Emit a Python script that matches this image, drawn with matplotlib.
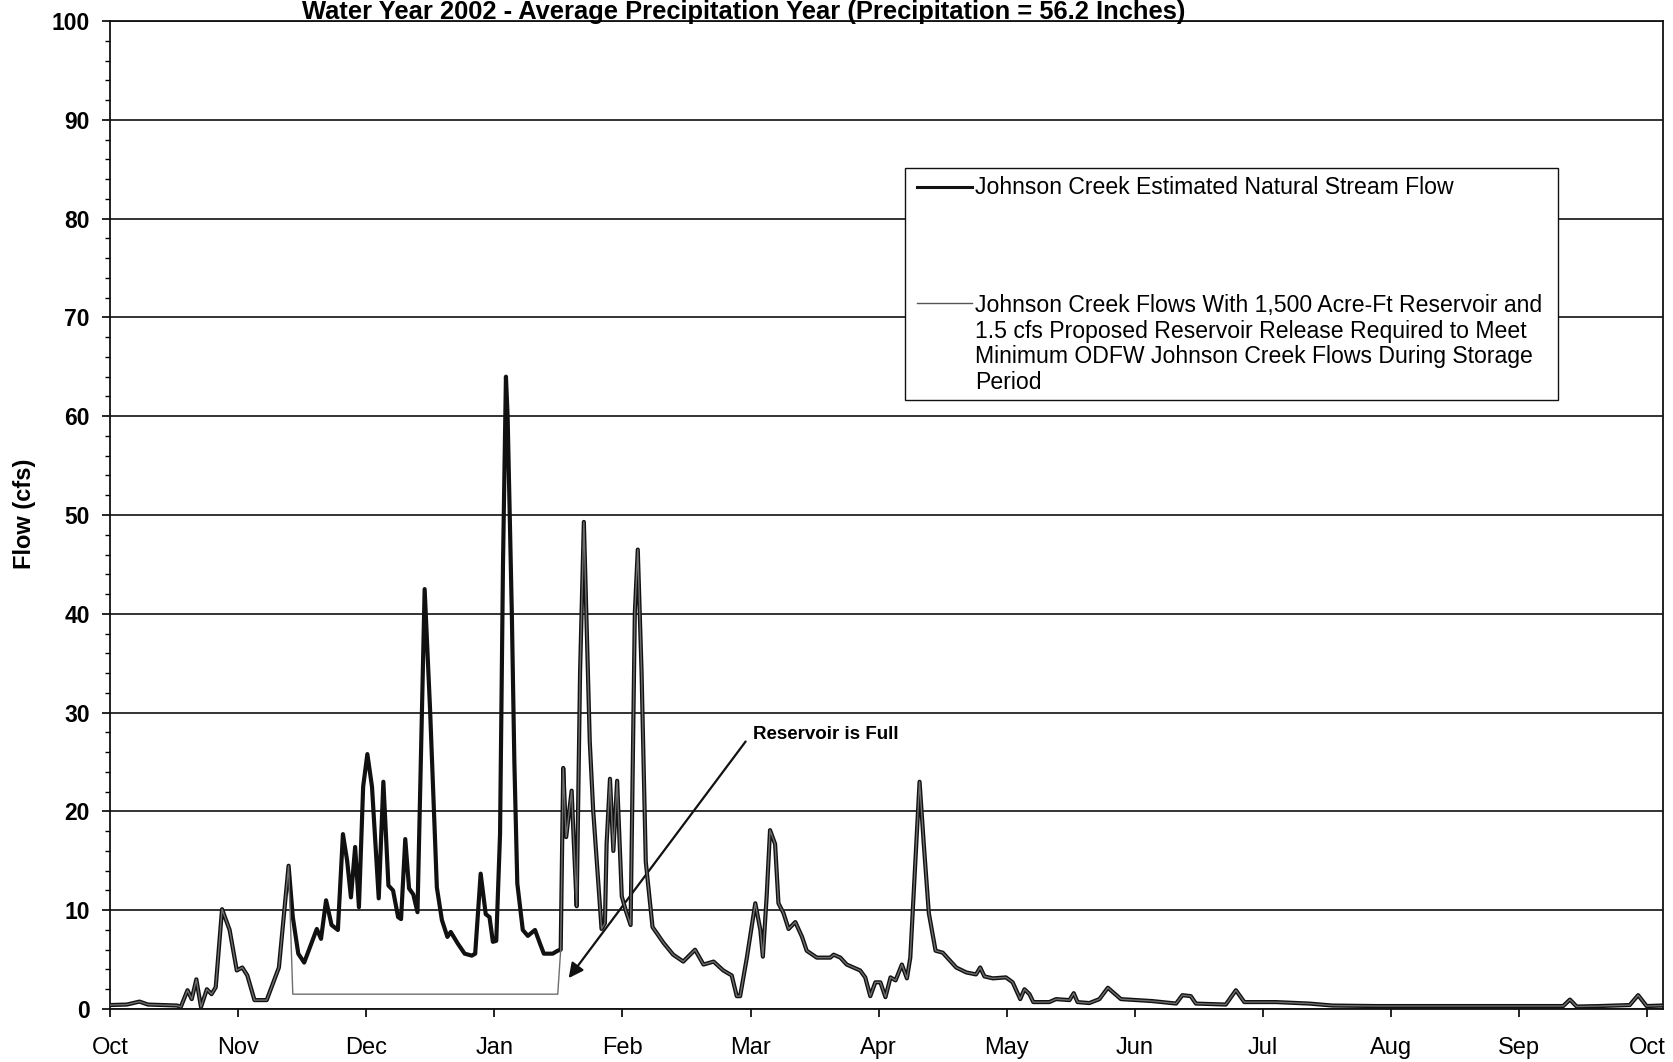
import matplotlib
matplotlib.use("Agg")
import matplotlib.pyplot as plt
from matplotlib.lines import Line2D
from matplotlib.patches import Rectangle
import numpy as np

plt.rcParams['font.family'] = ['Liberation Sans', 'DejaVu Sans']

# days since Oct 1 2001
natural_days = [0, 4, 7, 9, 16, 16.8, 18.4, 19.4, 20.5, 21.6, 23, 24.1, 25.1, 26.6, 28.4,
                30.1, 31.4, 32.6, 34.3, 37.2, 40.1, 42.4, 43.4, 44.7, 46.1, 47.6, 49.1,
                50.1, 51.3, 52.6, 54.1, 55.3, 56.3, 57.2, 58.2, 59.1, 60.1, 61.1, 62.2,
                63.8, 64.9, 65.5, 66.1, 67.2, 68.4, 69.1, 70.1, 71.0, 72.0, 73.0, 74.7,
                76.0, 77.6, 78.8, 80.1, 80.9, 82.6, 84.2, 85.9, 86.7, 88.0, 89.2, 90.1,
                90.9, 91.7, 92.6, 93.3, 94.0, 94.4, 95.4, 96.0, 96.7, 98.0, 99.2, 100.9,
                102.1, 103.0, 105.1, 106.3, 107.0, 107.6, 108.3, 109.6, 110.1, 110.8,
                111.6, 112.5, 113.9, 114.7, 116.7, 117.5, 117.9, 118.7, 119.5, 120.4,
                121.5, 122.5, 123.6, 124.6, 125.3, 126.2, 127.2, 128.8, 131.4, 133.7,
                136.1, 138.9, 140.9, 143.3, 145.6, 147.6, 148.8, 149.6, 151.2, 153.2,
                154.4, 155.0, 155.9, 156.7, 157.9, 158.7, 159.9, 161.1, 162.7, 164.3,
                165.4, 167.8, 171.0, 171.8, 173.4, 174.9, 178.1, 179.3, 180.5, 181.7,
                182.9, 184.1, 185.3, 186.5, 188.0, 189.2, 190.0, 191.2, 192.2, 193.2,
                194.4, 196.0, 197.7, 200.9, 203.3, 205.6, 206.6, 207.6, 209.6, 212.7,
                214.3, 216.1, 217.1, 218.3, 219.2, 223.0, 224.6, 227.8, 228.8, 229.7,
                232.5, 234.9, 236.9, 238.4, 240.0, 247.5, 253.1, 254.6, 256.6, 257.8,
                264.9, 267.3, 269.3, 276.8, 284.7, 290.2, 300.5, 316.3, 345.0, 346.6,
                348.2, 353.7, 360.8, 362.8, 364.8, 368.4]
natural_flow = [0.4, 0.45, 0.75, 0.45, 0.35, 0.2, 1.9, 1.0, 3.0, 0.2, 2.0, 1.5, 2.2, 10.1, 8.0,
                3.9, 4.2, 3.4, 0.9, 0.9, 4.2, 14.5, 9.3, 5.6, 4.7, 6.4, 8.1,
                7.1, 11.0, 8.5, 8.0, 17.7, 15.0, 11.3, 16.4, 10.3, 22.5, 25.8, 22.5,
                11.2, 23.0, 17.7, 12.5, 12.0, 9.3, 9.1, 17.2, 12.2, 11.6, 9.8, 42.5,
                30.2, 12.3, 9.0, 7.3, 7.8, 6.6, 5.6, 5.4, 5.6, 13.7, 9.6, 9.3,
                6.8, 6.9, 17.7, 45.0, 64.0, 60.0, 40.0, 25.0, 12.7, 8.0, 7.4, 8.0,
                6.6, 5.6, 5.6, 5.9, 6.0, 24.4, 17.4, 22.1, 17.0, 10.4,
                34.1, 49.3, 27.1, 20.2, 8.1, 8.7, 16.7, 23.3, 16.0, 23.1,
                11.4, 9.9, 8.5, 40.1, 46.5, 34.1, 14.9, 8.3, 6.7, 5.5,
                4.8, 6.0, 4.5, 4.8, 3.9, 3.4, 1.3, 1.3, 5.2, 10.7,
                8.0, 5.3, 11.4, 18.1, 16.7, 10.7, 9.7, 8.1, 8.8, 7.3,
                5.9, 5.2, 5.2, 5.5, 5.2, 4.5, 3.9, 3.2, 1.3, 2.7,
                2.7, 1.2, 3.2, 2.9, 4.5, 3.1, 5.2, 14.9, 23.0, 16.7,
                9.7, 5.9, 5.7, 4.2, 3.7, 3.5, 4.2, 3.3, 3.1, 3.2,
                2.7, 1.0, 2.0, 1.5, 0.7, 0.7, 1.0, 0.9, 1.6, 0.7,
                0.6, 1.0, 2.15, 1.6, 1.0, 0.8, 0.55, 1.4, 1.3, 0.55,
                0.45, 1.9, 0.7, 0.7, 0.55, 0.35, 0.3, 0.3, 0.3, 0.95,
                0.25, 0.3, 0.4, 1.4, 0.3, 0.35]

# storage period: reservoir release holds the creek at 1.5 cfs
storage_start = 43.0
storage_end = 106.5
storage_release = 1.5

months = ['Oct', 'Nov', 'Dec', 'Jan', 'Feb', 'Mar', 'Apr', 'May', 'Jun', 'Jul',
          'Aug', 'Sep', 'Oct']

nat_x = np.array(natural_days)
nat_y = np.array(natural_flow)
in_storage = (nat_x > storage_start) & (nat_x < storage_end)
res_y = np.where(in_storage, storage_release, nat_y)

fig = plt.figure(figsize=(16.74, 10.62), dpi=100)
ax = fig.add_axes([110 / 1674, 1 - 1009 / 1062, 1553 / 1674, 988 / 1062])

ax.plot(nat_x, nat_y, color='#111111', lw=3.0, solid_joinstyle='round', zorder=3)
ax.plot(nat_x, res_y, color='#6e6e6e', lw=1.0, zorder=4)

ax.set_xlim(0, 368.7)
ax.set_ylim(0, 100)
tick_pos = np.arange(13) * 365 / 12
ax.set_xticks(tick_pos)
ax.set_xticklabels(months, fontsize=17)
ax.set_yticks(np.arange(0, 101, 10))
ax.set_yticks(np.arange(0, 101, 2), minor=True)
ax.set_yticklabels([str(v) for v in range(0, 101, 10)], fontsize=16.5, fontweight='bold')
ax.tick_params(axis='x', direction='out', length=6, width=1.2, pad=14)
ax.tick_params(axis='y', which='major', direction='out', length=5.5, width=1.2, pad=9)
ax.tick_params(axis='y', which='minor', direction='out', length=3.5, width=1.0)
ax.yaxis.grid(True, color='#111111', lw=1.2)
ax.set_axisbelow(True)
for s in ax.spines.values():
    s.set_color('#111111')
    s.set_linewidth(1.3)

fig.text(25 / 1674, 1 - 514 / 1062, 'Flow (cfs)', rotation=90, ha='center', va='center',
         fontsize=17, fontweight='bold')
fig.text(744 / 1674, 1 - 19 / 1062,
         'Water Year 2002 - Average Precipitation Year (Precipitation = 56.2 Inches)',
         ha='center', va='baseline', fontsize=18.4, fontweight='bold')

# annotation
ax.annotate('', xy=(108.5, 2.9), xytext=(151.3, 27.3),
            arrowprops=dict(arrowstyle='-|>', color='#111111', lw=1.6, mutation_scale=22))
ax.text(152.6, 27.8, 'Reservoir is Full', fontsize=13.5, fontweight='bold', va='center', ha='left')

# legend box drawn by hand to match the layout
fig.patches.append(Rectangle((905 / 1674, 1 - 400 / 1062), 653 / 1674, 232 / 1062,
                             transform=fig.transFigure, facecolor='white',
                             edgecolor='#111111', lw=1.0, zorder=5))
fig.lines.append(Line2D([917 / 1674, 972 / 1674], [1 - 187 / 1062] * 2,
                        transform=fig.transFigure, color='#111111', lw=2.2, zorder=6))
fig.lines.append(Line2D([917 / 1674, 972 / 1674], [1 - 303 / 1062] * 2,
                        transform=fig.transFigure, color='#555555', lw=1.0, zorder=6))
fig.text(975 / 1674, 1 - 188 / 1062, 'Johnson Creek Estimated Natural Stream Flow',
         fontsize=16.6, va='center', ha='left', zorder=7)
fig.text(975 / 1674, 1 - 294 / 1062,
         'Johnson Creek Flows With 1,500 Acre-Ft Reservoir and\n'
         '1.5 cfs Proposed Reservoir Release Required to Meet\n'
         'Minimum ODFW Johnson Creek Flows During Storage\n'
         'Period',
         fontsize=16.6, va='top', ha='left', linespacing=1.15, zorder=7)

fig.savefig('out.png', dpi=100)
